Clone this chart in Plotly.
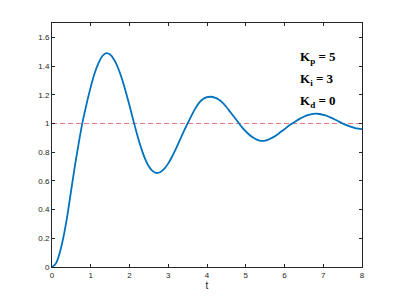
import plotly.graph_objects as go

t = [0.0, 0.1, 0.2, 0.3, 0.4, 0.5, 0.6, 0.7, 0.8, 0.9,
     1.0, 1.1, 1.2, 1.3, 1.4, 1.5, 1.6, 1.7, 1.8, 1.9,
     2.0, 2.1, 2.2, 2.3, 2.4, 2.5, 2.6, 2.7, 2.8, 2.9,
     3.0, 3.1, 3.2, 3.3, 3.4, 3.5, 3.6, 3.7, 3.8, 3.9,
     4.0, 4.1, 4.2, 4.3, 4.4, 4.5, 4.6, 4.7, 4.8, 4.9,
     5.0, 5.1, 5.2, 5.3, 5.4, 5.5, 5.6, 5.7, 5.8, 5.9,
     6.0, 6.1, 6.2, 6.3, 6.4, 6.5, 6.6, 6.7, 6.8, 6.9,
     7.0, 7.1, 7.2, 7.3, 7.4, 7.5, 7.6, 7.7, 7.8, 7.9, 8.0]
y = [0.0, 0.025, 0.10, 0.215, 0.365, 0.545, 0.72, 0.88, 1.025, 1.145,
     1.255, 1.35, 1.42, 1.47, 1.49, 1.48, 1.445, 1.39, 1.315, 1.225,
     1.125, 1.02, 0.92, 0.83, 0.755, 0.70, 0.668, 0.655, 0.662, 0.685,
     0.722, 0.77, 0.825, 0.885, 0.945, 1.0, 1.055, 1.105, 1.145, 1.17,
     1.183, 1.186, 1.18, 1.167, 1.145, 1.115, 1.08, 1.045, 1.01, 0.975,
     0.945, 0.92, 0.90, 0.886, 0.879, 0.88, 0.89, 0.903, 0.92, 0.94,
     0.96, 0.982, 1.0, 1.018, 1.034, 1.047, 1.058, 1.065, 1.068, 1.066,
     1.06, 1.052, 1.041, 1.028, 1.014, 1.0, 0.988, 0.978, 0.97, 0.964, 0.96]
ref_x = [0, 8]
ref_y = [1, 1]
x_ticks = [0, 1, 2, 3, 4, 5, 6, 7, 8]
y_ticks = [0, 0.2, 0.4, 0.6, 0.8, 1, 1.2, 1.4, 1.6]
y_tick_text = ["0", "0.2", "0.4", "0.6", "0.8", "1", "1.2", "1.4", "1.6"]
labels = ["K<sub>p</sub> = 5", "K<sub>i</sub> = 3", "K<sub>d</sub> = 0"]
label_y = [1.46, 1.305, 1.155]

fig = go.Figure()
fig.add_trace(go.Scatter(x=ref_x, y=ref_y, mode="lines",
                         line=dict(color="#EE7777", width=1, dash="5px,3px"),
                         hoverinfo="skip"))
fig.add_trace(go.Scatter(x=t, y=y, mode="lines", line_shape="spline",
                         line=dict(color="#0072BD", width=1.8)))

for txt, ly in zip(labels, label_y):
    fig.add_annotation(x=6.35, y=ly, xref="x", yref="y", text="<b>" + txt + "</b>",
                       showarrow=False, xanchor="left", yanchor="middle",
                       font=dict(family="Liberation Serif", size=13, color="#000000"))

axis_common = dict(showline=True, linecolor="#262626", linewidth=1, mirror="ticks",
                   ticks="inside", ticklen=3, tickcolor="#262626", showgrid=False,
                   zeroline=False, tickfont=dict(family="Liberation Sans", size=8, color="#262626"))

fig.update_xaxes(range=[0, 8], tickvals=x_ticks, ticktext=[str(v) for v in x_ticks],
                 title=dict(text="t", font=dict(family="Liberation Sans", size=10, color="#262626"),
                            standoff=2), **axis_common)
fig.update_yaxes(range=[0, 1.7], tickvals=y_ticks, ticktext=y_tick_text, **axis_common)

fig.update_layout(width=400, height=300, margin=dict(l=52, r=38, t=23, b=33),
                  paper_bgcolor="white", plot_bgcolor="white", showlegend=False)

fig.write_html("out.html")
